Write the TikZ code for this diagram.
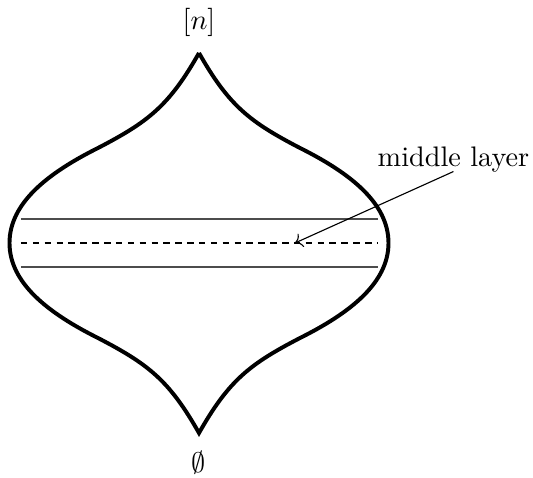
\documentclass[tikz,border=0pt]{standalone}
\usepackage{amsmath,amssymb}
\usepackage{tikz}
\usetikzlibrary{positioning,arrows.meta}

\begin{document}
\begin{tikzpicture}[x=0.354pt, y=0.354pt, >=To,
  hull/.style={line width=1.4pt},
  layer/.style={line width=0.45pt, black!70},
  midlayer/.style={line width=0.4pt, dash pattern=on 2.3pt off 1.9pt}]
\useasboundingbox (-199,-235) rectangle (334,243);
% the poset, drawn as a lens with cusps
\draw[hull] (0,190) .. controls (30,137) and (51,121) .. (101,95)
  .. controls (151,70) and (189.5,40) .. (189.5,0)
  .. controls (189.5,-40) and (151,-70) .. (101,-95)
  .. controls (51,-121) and (30,-137) .. (0,-190)
  .. controls (-30,-137) and (-51,-121) .. (-101,-95)
  .. controls (-151,-70) and (-189.5,-40) .. (-189.5,0)
  .. controls (-189.5,40) and (-151,70) .. (-101,95)
  .. controls (-51,121) and (-30,137) .. (0,190);
\node (top) at (0,221) {$[n]$};
\node (bot) at (0,-220) {$\emptyset$};
% layers
\draw[layer] (-178,24) -- (179,24);
\draw[layer] (-178,-24) -- (179,-24);
\draw[midlayer] (-178,0) -- (179,0);
\coordinate (mid) at (96,0);
\node[anchor=base] (lbl) at (254.5,76) {middle layer};
\draw[->, line width=0.4pt] ([yshift=-1.6pt]lbl.base) -- (mid);
\end{tikzpicture}
\end{document}
